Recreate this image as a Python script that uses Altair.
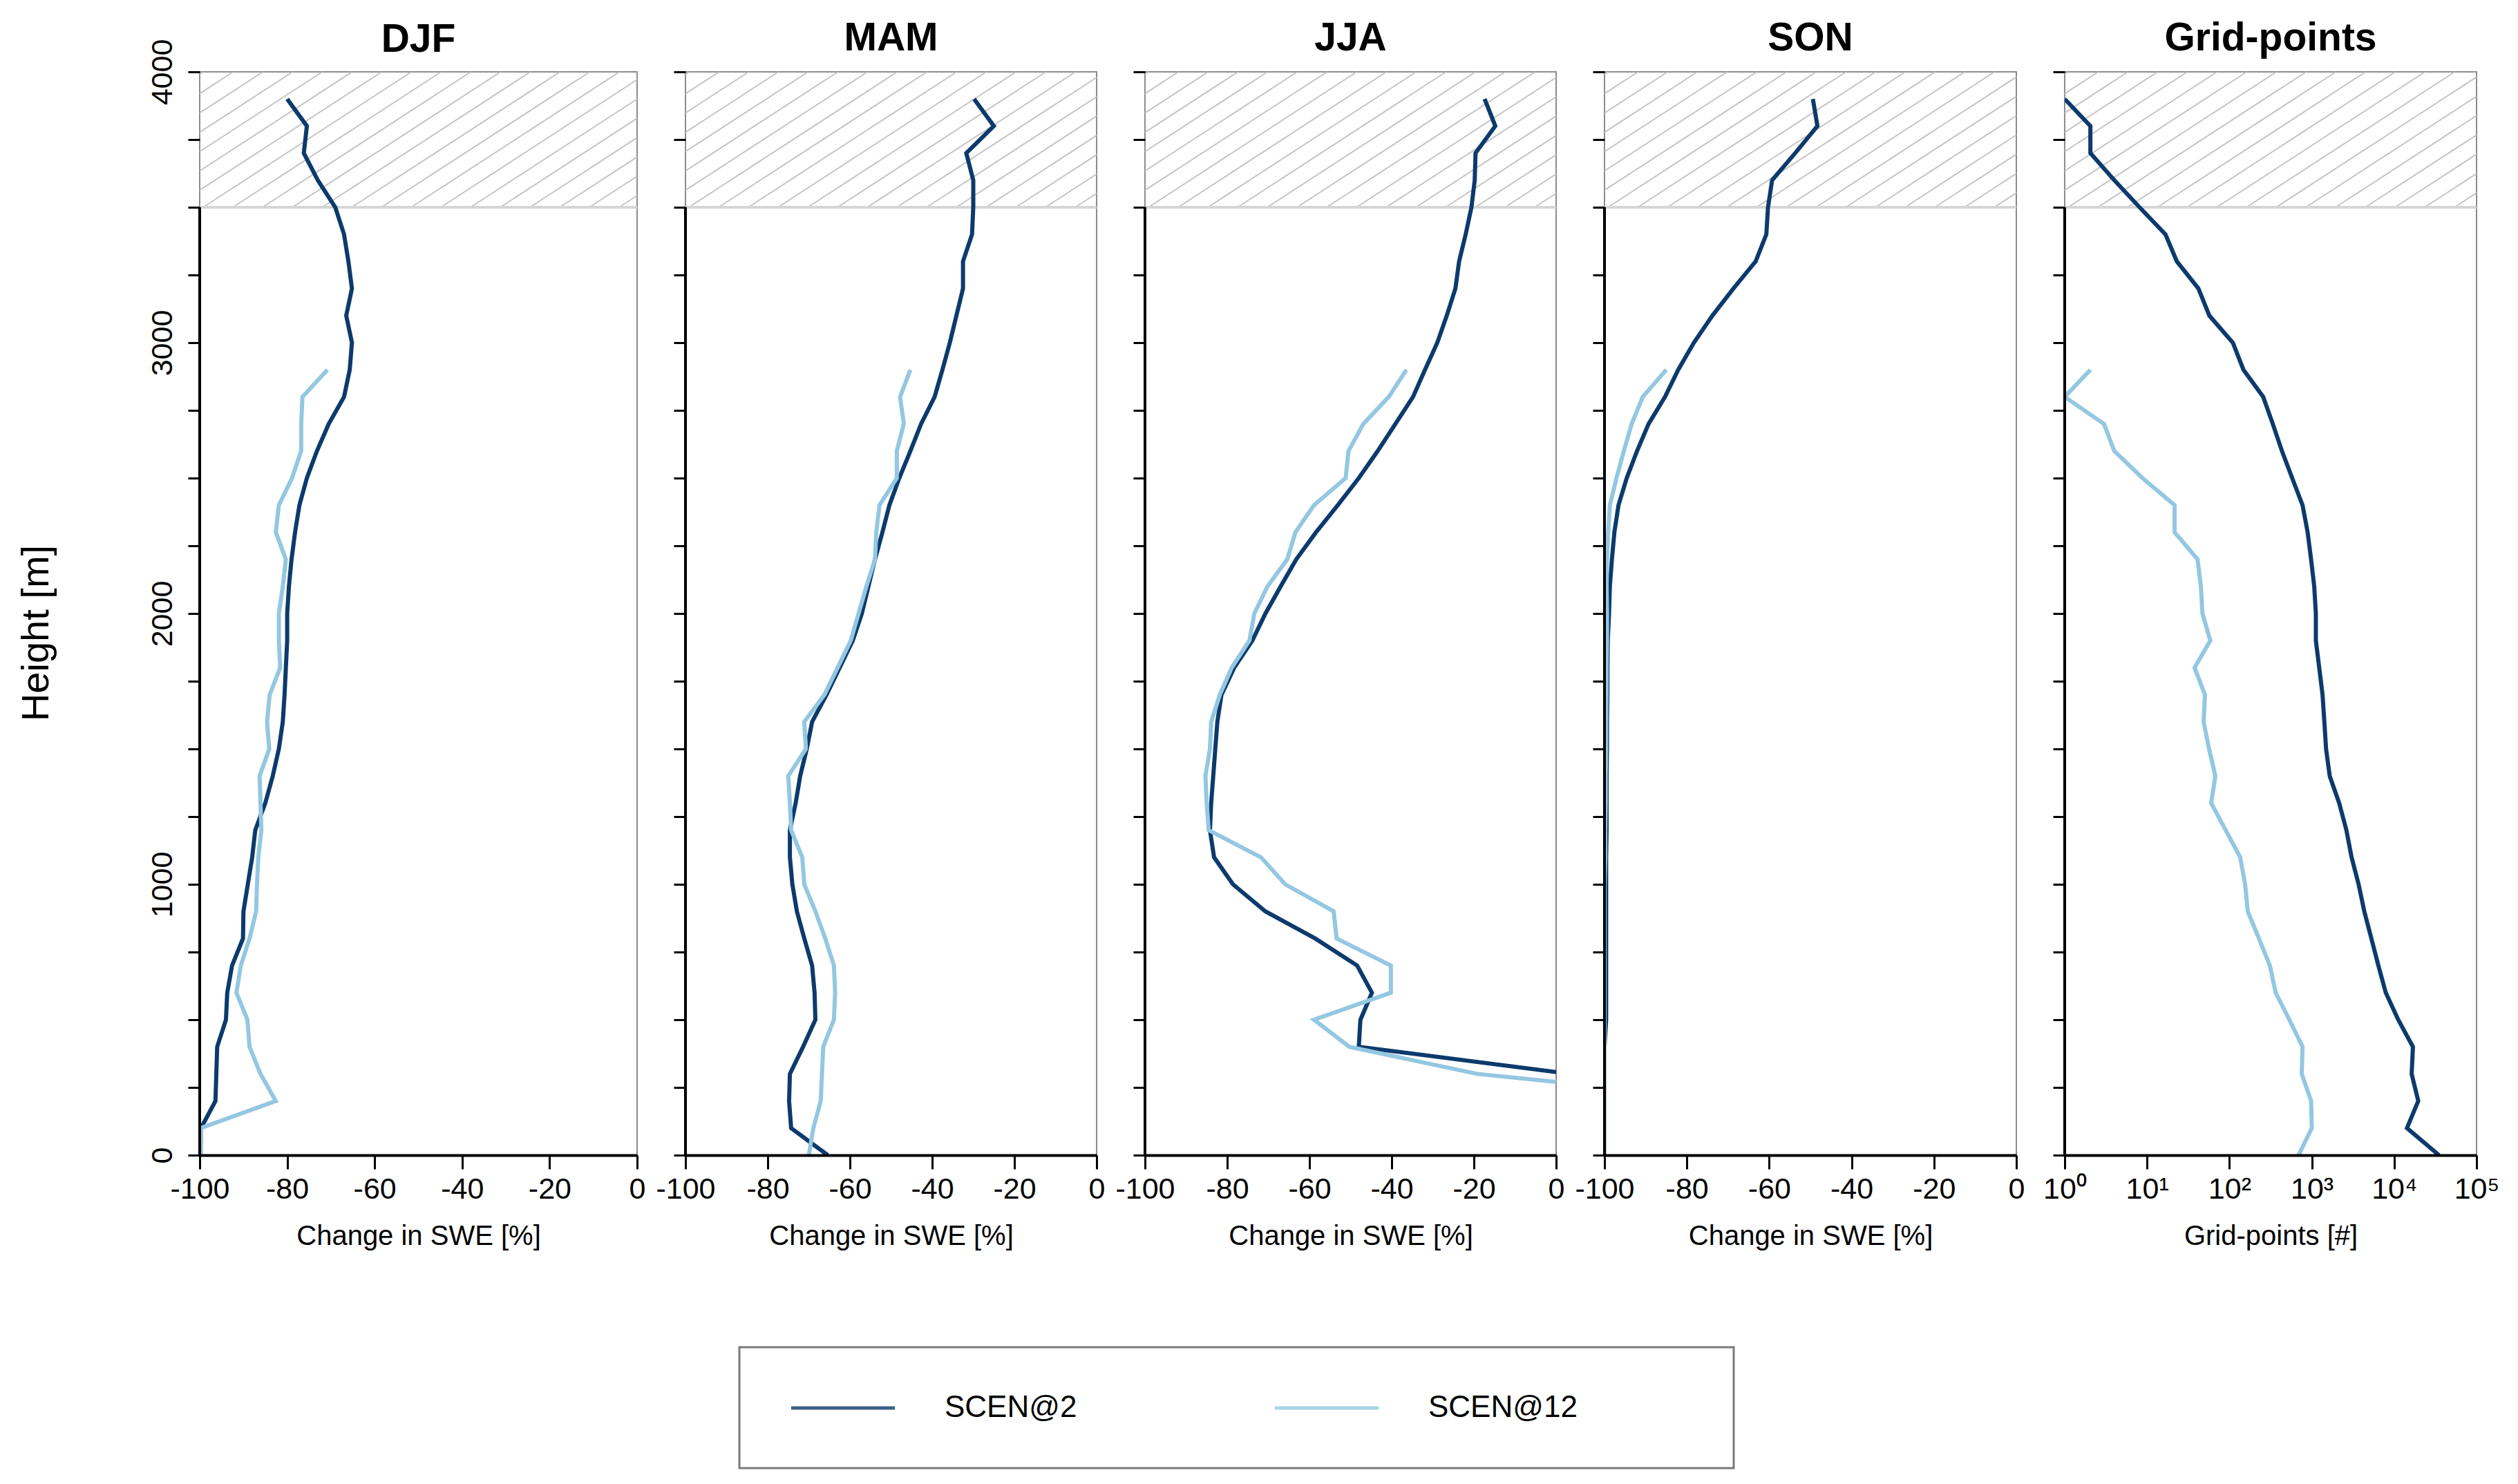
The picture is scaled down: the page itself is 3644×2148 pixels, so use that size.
import altair as alt
import pandas as pd

FONT = "Liberation Sans"

HEIGHTS_M = [0, 100, 200, 300, 400, 500, 600, 700, 800, 900,
             1000, 1100, 1200, 1300, 1400, 1500, 1600, 1700, 1800, 1900,
             2000, 2100, 2200, 2300, 2400, 2500, 2600, 2700, 2800, 2900,
             3000, 3100, 3200, 3300, 3400, 3500, 3600, 3700, 3800, 3900]

SERIES = ["SCEN@2", "SCEN@12"]
COLORS = ["#0c3a6c", "#94c7e1"]
PANELS = ["DJF", "MAM", "JJA", "SON", "Grid-points"]

SWE_TICKS = [-100, -80, -60, -40, -20, 0]
GRID_TICKS = [1, 10, 100, 1000, 10000, 100000]
HEIGHT_TICKS = [0, 250, 500, 750, 1000, 1250, 1500, 1750, 2000, 2250, 2500,
                2750, 3000, 3250, 3500, 3750, 4000]

# change in SWE [%], heights 0..3900 m (SCEN@2) and 0..2900 m (SCEN@12)
DJF_SCEN2 = [-100.0, -99.7, -96.4, -96.2, -96.0, -94.0, -93.7, -92.6, -90.1, -90.0,
             -89.0, -88.0, -87.3, -85.0, -83.3, -81.9, -81.0, -80.6, -80.3, -80.0,
             -80.0, -79.6, -79.0, -78.2, -77.2, -75.5, -73.2, -70.5, -67.0, -65.7,
             -65.2, -66.5, -65.2, -66.0, -67.0, -69.0, -73.0, -76.2, -75.5, -80.0]
DJF_SCEN12 = [-99.7, -99.7, -82.6, -86.1, -88.6, -89.1, -91.6, -90.6, -88.6, -87.1,
              -86.9, -86.6, -85.9, -86.1, -86.3, -84.1, -84.6, -84.0, -81.6, -81.9,
              -81.9, -81.0, -80.3, -82.6, -81.9, -78.9, -76.8, -76.8, -76.5, -70.8]

MAM_SCEN2 = [-65.4, -74.3, -74.8, -74.6, -71.4, -68.4, -68.6, -69.2, -71.1, -72.9,
             -74.0, -74.6, -74.6, -73.2, -72.1, -70.5, -69.2, -65.7, -62.5, -59.3,
             -57.1, -55.5, -53.9, -52.1, -50.4, -48.0, -45.3, -42.7, -39.4, -37.5,
             -35.7, -34.1, -32.5, -32.5, -30.3, -30.0, -30.0, -31.7, -25.0, -29.8]
MAM_SCEN12 = [-70.0, -68.9, -67.1, -66.8, -66.5, -63.9, -63.6, -63.9, -66.0, -68.4,
              -71.1, -71.6, -74.3, -74.6, -75.0, -70.7, -71.1, -66.2, -63.0, -59.8,
              -57.9, -56.0, -53.9, -53.6, -52.8, -48.6, -48.6, -46.9, -47.8, -45.3]

JJA_SCEN2 = [None, None, None, 3.6, -48.0, -47.6, -44.8, -48.4, -58.6, -70.7,
             -78.6, -83.2, -84.2, -83.9, -83.4, -82.9, -82.4, -81.4, -78.3, -73.9,
             -70.7, -67.0, -63.2, -58.4, -53.1, -48.0, -43.4, -39.1, -34.8, -31.9,
             -28.9, -26.6, -24.5, -23.6, -22.0, -20.6, -19.8, -19.6, -14.8, -17.4]
JJA_SCEN12 = [None, None, 46.0, -19.2, -50.3, -58.9, -40.2, -40.2, -53.4, -54.1,
              -65.9, -71.8, -84.5, -85.0, -85.3, -84.2, -83.9, -81.8, -78.9, -74.6,
              -73.4, -70.2, -65.4, -63.4, -58.9, -51.2, -50.5, -46.9, -40.7, -36.4]

SON_SCEN2 = [-100.0, -100.0, -100.0, -100.0, -100.0, -99.6, -99.6, -99.6, -99.6, -99.6,
             -99.6, -99.6, -99.5, -99.5, -99.5, -99.4, -99.4, -99.3, -99.3, -99.2,
             -98.9, -98.7, -98.2, -97.6, -96.6, -94.6, -92.1, -89.3, -85.3, -82.1,
             -78.3, -73.8, -68.7, -63.3, -60.7, -60.3, -59.3, -53.7, -48.3, -49.4]
SON_SCEN12 = [-100.0, -100.0, -100.0, -100.0, -100.0, -100.0, -100.0, -100.0, -100.0, -100.0,
              -100.0, -99.8, -99.8, -99.7, -99.7, -99.6, -99.6, -99.5, -99.5, -99.4,
              -99.4, -99.5, -99.4, -99.1, -98.7, -97.1, -95.3, -93.4, -90.7, -85.0]

# number of grid points per height band
GRID_SCEN2 = [35000, 14300, 19600, 16300, 16900, 11200, 7900, 6430, 5290, 4340,
              3700, 3040, 2630, 2150, 1650, 1490, 1420, 1350, 1230, 1120,
              1120, 1070, 980, 890, 772, 578, 434, 336, 257, 148,
              110, 57, 42, 23, 16.7, 8.1, 4, 2.05, 2.05, 1]
GRID_SCEN12 = [690, 1000, 980, 755, 772, 534, 364, 310, 228, 167,
               155, 135, 90, 60, 67.5, 56.6, 48.6, 50.4, 37.7, 58.6,
               47, 45, 41, 21.6, 21.6, 8.8, 4, 3, 1, 2.05]

PANEL_DATA = {
    "DJF": (DJF_SCEN2, DJF_SCEN12),
    "MAM": (MAM_SCEN2, MAM_SCEN12),
    "JJA": (JJA_SCEN2, JJA_SCEN12),
    "SON": (SON_SCEN2, SON_SCEN12),
    "Grid-points": (GRID_SCEN2, GRID_SCEN12),
}

PLOT_H = 1568
HATCH_LOW, HATCH_HIGH = 3500, 4000

color_scale = alt.Scale(domain=SERIES, range=COLORS)


def series_df(values, name):
    rows = [{"height": h, "value": v, "series": name}
            for h, v in zip(HEIGHTS_M, values) if v is not None]
    return pd.DataFrame(rows)


def hatch_df(width, log):
    band_px = PLOT_H * (HATCH_HIGH - HATCH_LOW) / 4000.0
    run = band_px / 0.65
    step = 43.0
    rows = []
    b = 5.0 - step * int(run / step + 1)
    while b < width:
        p0, p1 = b, b + run
        if log:
            x0, x1 = 10 ** (5 * p0 / width), 10 ** (5 * p1 / width)
        else:
            x0, x1 = -100 + 100 * p0 / width, -100 + 100 * p1 / width
        rows.append({"x0": x0, "x1": x1, "y0": HATCH_LOW, "y1": HATCH_HIGH})
        b += step
    return pd.DataFrame(rows)


def make_panel(name, width, first, log):
    s2, s12 = PANEL_DATA[name]
    d2, d12 = series_df(s2, SERIES[0]), series_df(s12, SERIES[1])

    common_x = dict(labelFontSize=43, titleFontSize=40, titleFontWeight="normal",
                    labelFont=FONT, titleFont=FONT, labelColor="black", titleColor="black",
                    tickSize=20, tickWidth=3, tickColor="black", domainColor="black",
                    domainWidth=4, labelPadding=8, titlePadding=26, grid=False,
                    labelFlush=False, labelOverlap=False, zindex=1)
    if log:
        xmin, xmax = 1, 100000
        xscale = alt.Scale(type="log", domain=[xmin, xmax], nice=False)
        xaxis = alt.Axis(values=GRID_TICKS, title="Grid-points [#]",
                         labelExpr="'10' + ['⁰','¹','²','³','⁴','⁵'][round(log(datum.value)/LN10)]",
                         **common_x)
    else:
        xmin, xmax = -100, 0
        xscale = alt.Scale(domain=[xmin, xmax], nice=False)
        xaxis = alt.Axis(values=SWE_TICKS, title="Change in SWE [%]",
                         labelExpr="datum.value + ''", **common_x)

    yscale = alt.Scale(domain=[0, 4000], nice=False)
    if first:
        yaxis = alt.Axis(values=HEIGHT_TICKS, title="Height [m]", domain=False,
                         labelExpr="datum.value % 1000 == 0 ? datum.value + '' : ''",
                         labelAngle=270, labelAlign="center", labelBaseline="alphabetic",
                         labelFontSize=43, labelFont=FONT, labelColor="black",
                         labelPadding=24, labelOverlap=False, labelFlush=False,
                         tickSize=17, tickWidth=3, tickColor="black", grid=False,
                         titleFont=FONT, titleFontSize=56, titleFontWeight="normal",
                         titleColor="black", titleAngle=270, titleAlign="center",
                         titleBaseline="alphabetic", titleX=-220, titleY=812, zindex=1)
    else:
        yaxis = alt.Axis(values=HEIGHT_TICKS, title="", domain=False, labels=False,
                         tickSize=17, tickWidth=3, tickColor="black", grid=False, zindex=1)

    hatch = alt.Chart(hatch_df(width, log)).mark_rule(
        color="#c4c4c4", strokeWidth=2, clip=True
    ).encode(
        x=alt.X("x0:Q", scale=xscale, axis=xaxis),
        x2="x1:Q",
        y=alt.Y("y0:Q", scale=yscale, axis=yaxis),
        y2="y1:Q",
    )

    edge_df = pd.DataFrame([{"xa": xmin, "xb": xmax, "hb": HATCH_LOW, "h0": 0}])
    hatch_edge = alt.Chart(edge_df).mark_rule(color="#d6d6d6", strokeWidth=4).encode(
        x=alt.X("xa:Q", scale=xscale, axis=xaxis),
        x2="xb:Q",
        y=alt.Y("hb:Q", scale=yscale, axis=yaxis),
    )

    def line(df):
        return alt.Chart(df).mark_line(strokeWidth=6, clip=True).encode(
            x=alt.X("value:Q", scale=xscale, axis=xaxis),
            y=alt.Y("height:Q", scale=yscale, axis=yaxis),
            color=alt.Color("series:N", scale=color_scale, legend=None),
            order=alt.Order("height:Q"),
        )

    left_axis = alt.Chart(edge_df).mark_rule(color="black", strokeWidth=4).encode(
        x=alt.X("xa:Q", scale=xscale, axis=xaxis),
        y=alt.Y("h0:Q", scale=yscale, axis=yaxis),
        y2="hb:Q",
    )

    title_kw = dict(text=name, fontSize=57, fontWeight="bold", font=FONT,
                    color="black", offset=18, frame="group")
    if first:
        # the rotated "4000" label pushes this panel's bounds up; compensate
        title_kw["dy"] = 49

    return alt.layer(hatch, hatch_edge, line(d2), line(d12), left_axis).properties(
        width=width, height=PLOT_H,
        title=alt.TitleParams(**title_kw),
        view=alt.ViewBackground(stroke="#8c8c8c", strokeWidth=2),
    )


widths = [633, 595, 595, 596, 596]
charts = [make_panel(p, w, i == 0, p == "Grid-points") for i, (p, w) in enumerate(zip(PANELS, widths))]
panels = alt.hconcat(*charts, spacing=70, bounds="flush")

# legend
leg_df = pd.DataFrame({"series": SERIES})
leg_x = alt.X("series:N", scale=alt.Scale(domain=SERIES, range=[150, 850], padding=0), axis=None)
leg_sym = alt.Chart(leg_df).mark_point(
    shape="stroke", size=22500, strokeWidth=5, opacity=0.8, filled=False
).encode(
    x=leg_x, y=alt.value(88),
    color=alt.Color("series:N", scale=color_scale, legend=None),
)
leg_txt = alt.Chart(leg_df).mark_text(
    align="left", baseline="middle", dx=147, fontSize=44, font=FONT, color="black"
).encode(x=leg_x, y=alt.value(88), text="series:N")
legend_box = alt.layer(leg_sym, leg_txt).properties(
    width=1439, height=175,
    view=alt.ViewBackground(stroke="#7a7a7a", strokeWidth=3),
)
spacer = alt.Chart(leg_df).mark_point(opacity=0).encode(
    x=alt.value(0), y=alt.value(0)
).properties(width=781, height=175, view=alt.ViewBackground(strokeOpacity=0))
legend_row = alt.hconcat(spacer, legend_box, spacing=0, bounds="flush")

chart = alt.vconcat(panels, legend_row, spacing=137).properties(
    padding={"left": 15, "top": 17, "right": 5, "bottom": 5},
    background="white",
).configure_view(stroke="#8c8c8c", strokeWidth=2)

chart.save("out.html", embed_options={"renderer": "svg", "actions": False})
